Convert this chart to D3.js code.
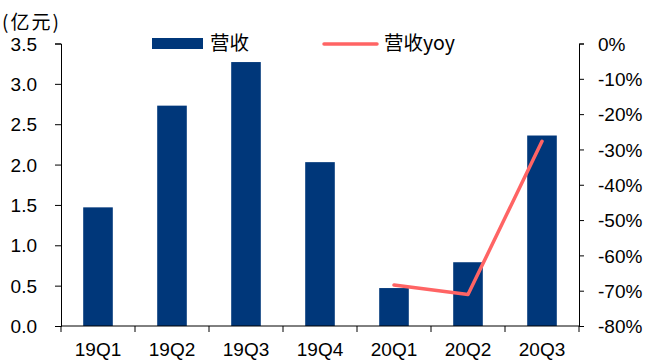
<!DOCTYPE html>
<html>
<head>
<meta charset="utf-8">
<script src="https://cdn.jsdelivr.net/npm/d3@7"></script>
<style>
  html, body { margin: 0; padding: 0; background: #fff; }
  svg { display: block; }
  text { font-family: "Liberation Sans", Arial, sans-serif; fill: #000; }
  .cjk { font-family: "Noto Sans CJK SC", "Liberation Sans", sans-serif; }
</style>
</head>
<body>
<svg id="chart" width="649" height="360"></svg>
<script>
// Quarterly revenue (亿元) and year-over-year growth (%)
const quarters = ["19Q1", "19Q2", "19Q3", "19Q4", "20Q1", "20Q2", "20Q3"];
const revenue = [1.47, 2.73, 3.27, 2.03, 0.47, 0.79, 2.36];
const yoyQuarters = ["20Q1", "20Q2", "20Q3"];
const yoy = [-68.4, -71.1, -27.7];
const leftTicks = [0, 0.5, 1.0, 1.5, 2.0, 2.5, 3.0, 3.5];
const rightTicks = [0, -10, -20, -30, -40, -50, -60, -70, -80];

const barColor = "#00377A";
const lineColor = "#FF6464";

const svg = d3.select("#chart");
const m = { left: 61, right: 579, top: 43.5, bottom: 326 };

const x = d3.scaleBand().domain(quarters)
  .range([m.left, m.right]).paddingInner(0.6).paddingOuter(0.3);
const yL = d3.scaleLinear().domain([0, 3.5]).range([m.bottom, m.top]);
const yR = d3.scaleLinear().domain([-80, 0]).range([m.bottom, m.top]);

// bars
svg.append("g").selectAll("rect").data(quarters).join("rect")
  .attr("x", (d) => x(d))
  .attr("y", (d, i) => yL(revenue[i]))
  .attr("width", x.bandwidth())
  .attr("height", (d, i) => m.bottom - yL(revenue[i]))
  .attr("fill", barColor);

// yoy line
const line = d3.line()
  .x((d, i) => x(yoyQuarters[i]) + x.bandwidth() / 2)
  .y((d) => yR(d));
svg.append("path").datum(yoy)
  .attr("d", line)
  .attr("fill", "none")
  .attr("stroke", lineColor)
  .attr("stroke-width", 3.5)
  .attr("stroke-linejoin", "round")
  .attr("stroke-linecap", "round");

// left axis
const axL = svg.append("g").attr("transform", `translate(${m.left},0)`)
  .call(d3.axisLeft(yL).tickValues(leftTicks).tickFormat(d3.format(".1f"))
    .tickSize(6).tickSizeOuter(6).tickPadding(18));
axL.selectAll("text").style("font-size", "19px").attr("dy", "0.35em");

// right axis
const axR = svg.append("g").attr("transform", `translate(${m.right},0)`)
  .call(d3.axisRight(yR).tickValues(rightTicks).tickFormat((d) => d + "%")
    .tickSize(5).tickSizeOuter(5).tickPadding(14));
axR.selectAll("text").style("font-size", "19px").attr("dy", "0.35em");

// bottom axis: line with ticks at category boundaries
const bottom = svg.append("g");
bottom.append("line")
  .attr("x1", m.left).attr("x2", m.right)
  .attr("y1", m.bottom).attr("y2", m.bottom)
  .attr("stroke", "#000");
const bounds = quarters.map((d) => x(d) - x.step() * 0.3).concat([m.right]);
bottom.selectAll("line.tk").data(bounds).join("line")
  .attr("class", "tk")
  .attr("x1", (d) => d).attr("x2", (d) => d)
  .attr("y1", m.bottom).attr("y2", m.bottom + 6)
  .attr("stroke", "#000");
bottom.selectAll("text").data(quarters).join("text")
  .attr("x", (d) => x(d) + x.bandwidth() / 2)
  .attr("y", 356)
  .attr("text-anchor", "middle")
  .style("font-size", "19px")
  .text((d) => d);

svg.selectAll(".domain, .tick line").attr("stroke", "#000");

// unit label
svg.append("text").attr("class", "cjk")
  .attr("x", 2).attr("y", 29)
  .style("font-size", "19px")
  .style("letter-spacing", "2px")
  .text("(亿元)");

// legend
const lg = svg.append("g");
lg.append("rect").attr("x", 152).attr("y", 38).attr("width", 51).attr("height", 11)
  .attr("fill", barColor);
lg.append("text").attr("class", "cjk").attr("x", 210).attr("y", 50)
  .style("font-size", "19.5px").text("营收");
lg.append("line").attr("x1", 324).attr("x2", 377).attr("y1", 44).attr("y2", 44)
  .attr("stroke", lineColor).attr("stroke-width", 3.5).attr("stroke-linecap", "round");
lg.append("text").attr("class", "cjk").attr("x", 384).attr("y", 50)
  .style("font-size", "19.5px").text("营收yoy");
</script>
</body>
</html>
